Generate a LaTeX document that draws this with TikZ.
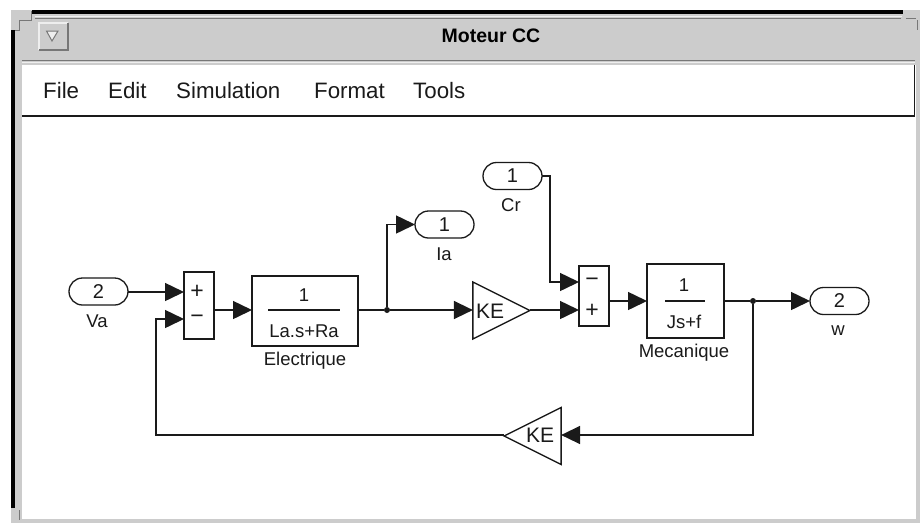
\documentclass[tikz,border=0pt]{standalone}
\usepackage{fontspec}
\setmainfont{Liberation Sans}
\usetikzlibrary{arrows.meta,shapes.geometric,shapes.misc}
\definecolor{wingray}{HTML}{CCCCCC}
\definecolor{winlight}{HTML}{EEEEEE}
\definecolor{windark}{HTML}{777777}
\definecolor{ink}{HTML}{1A1A1A}
\tikzset{
  x=1pt,y=-1pt,
  wire/.style={draw=ink,line width=1.5pt},
  flow/.style={wire,-{Triangle[length=19pt,width=18pt]}},
  blockbox/.style={draw=ink,line width=1.5pt,fill=white,inner sep=0pt,outer sep=0pt},
  pill/.style={draw=ink,line width=1.3pt,rounded rectangle,minimum width=59pt,minimum height=27pt,inner sep=0pt,outer sep=0pt,font=\fontsize{20}{20}\selectfont,text=ink},
  gain/.style={draw=ink,line width=1.3pt,isosceles triangle,isosceles triangle stretches,inner sep=0pt,outer sep=0pt,minimum width=57pt,minimum height=57pt},
  lab/.style={inner sep=0pt,font=\fontsize{18.5}{18.5}\selectfont,text=ink},
  gaintext/.style={inner sep=0pt,font=\fontsize{21}{21}\selectfont,text=ink},
  sign/.style={inner sep=0pt,font=\fontsize{23}{23}\selectfont,text=ink},
  menu/.style={inner sep=0pt,anchor=base west,font=\fontsize{22.3}{22.3}\selectfont,text=ink},
  junction/.style={circle,fill=ink,inner sep=0pt,minimum size=6pt},
}
\begin{document}
\begin{tikzpicture}
\useasboundingbox (0,0) rectangle (920,523);
% window chrome
\fill[wingray] (11,10) rectangle (920,65);
\fill[wingray] (11,10) rectangle (22,523);
\fill[wingray] (915.5,10) rectangle (920,523);
\fill[wingray] (11,519) rectangle (920,523);
\fill[white] (0,0) rectangle (920,10);
\fill[white] (0,0) rectangle (11,523);
\fill[white] (22,65) rectangle (915,116);
\fill[white] (22,116) rectangle (915.5,519);
\fill[black] (32,10) rectangle (903,13.5);
\fill[black] (11,30) rectangle (15,508);
\draw[winlight,line width=1.2pt] (35,16.5) -- (902,16.5);
\draw[windark,line width=1.2pt] (35,18.8) -- (901,18.8);
\draw[windark,line width=1.2pt] (22,60.3) -- (915,60.3);
\draw[winlight,line width=1.5pt] (22,62.7) -- (915,62.7);
\draw[windark,line width=1pt] (15,30) -- (19,30) -- (19,20) -- (31,20) -- (31,11);
\draw[windark,line width=1pt] (906,18) -- (916,18) (917,20) -- (917,30);
\draw[windark,line width=1pt] (19,510) -- (19,520);
\draw[ink,line width=1.4pt] (22,116) -- (914.5,116) -- (914.5,65);
% window menu button
\fill[wingray] (39,23) rectangle (68,50);
\draw[winlight,line width=1.2pt] (39,50) -- (39,23) -- (68,23);
\draw[windark,line width=1.2pt] (39,50) -- (68,50) -- (68,23);
\draw[windark,line width=1pt,fill=winlight] (46.5,31) -- (58,31) -- (52,41) -- cycle;
% titles and menu
\node[inner sep=0pt,font=\bfseries\fontsize{19.5}{19.5}\selectfont] (title) at (491,36) {Moteur CC};
\node[menu] (mfile) at (43,98) {File};
\node[menu] (medit) at (108,98) {Edit};
\node[menu] (msim) at (176,98) {Simulation};
\node[menu] (mformat) at (314,98) {Format};
\node[menu] (mtools) at (413,98) {Tools};
% ports
\node[pill] (va) at (98.5,291.5) {2};
\node[lab] (valab) at (97,321) {Va};
\node[pill] (ia) at (444.5,224.5) {1};
\node[lab] (ialab) at (444,254) {Ia};
\node[pill] (cr) at (512.5,176) {1};
\node[lab] (crlab) at (511,205) {Cr};
\node[pill] (w) at (839.5,301) {2};
\node[lab] (wlab) at (838,331) {w};
% sums
\node[blockbox,minimum width=30pt,minimum height=67pt] (sumA) at (199,305.5) {};
\node[sign] (sumAp) at (197,292) {+};
\node[sign] (sumAm) at (197,319.5) {−};
\node[blockbox,minimum width=30pt,minimum height=60pt] (sumB) at (594,296) {};
\node[sign] (sumBm) at (592,282) {−};
\node[sign] (sumBp) at (592,311) {+};
% transfer functions
\node[blockbox,minimum width=106pt,minimum height=70pt] (elec) at (305,311) {};
\node[lab] (elecn) at (304,295) {1};
\node[lab] (elecd) at (304,331) {La.s+Ra};
\node[lab] (eleclab) at (305,360.5) {Electrique};
\draw[wire] (268,310) -- (340,310);
\node[blockbox,minimum width=77pt,minimum height=74pt] (meca) at (685.5,301) {};
\node[lab] (mecan) at (684,285) {1};
\node[lab] (mecad) at (684,322) {Js+f};
\node[lab] (mecalab) at (684,353) {Mecanique};
\draw[wire] (665,301) -- (705,301);
% gains
\node[gain] (keA) at (490.5,310.5) {};
\node[gaintext] (keAt) at (490,311) {KE};
\node[gain,shape border rotate=180] (keB) at (543.5,436) {};
\node[gaintext] (keBt) at (540,435) {KE};
% connector helper points
\node[junction] (jA) at (387,310) {};
\node[junction] (jB) at (753,301) {};
\coordinate (crbend) at (550,176);
\coordinate (fbcorner) at (156,435);
% connectors
\draw[flow] (va.east |- 0,292) -- (sumA.west |- 0,292);
\draw[flow] (sumA.east |- 0,310) -- (elec.west |- 0,310);
\draw[wire] (elec.east |- jA) -- (jA);
\draw[flow] (jA) -- (keA.lower side |- jA);
\draw[flow] (jA) |- (ia.west);
\draw[flow] (keA.apex |- 0,310) -- (sumB.west |- 0,310);
\draw[flow] (cr.east) -- (crbend) |- (sumB.west |- 0,282);
\draw[flow] (sumB.east |- meca.west) -- (meca.west);
\draw[wire] (meca.east) -- (jB);
\draw[flow] (jB) -- (w.west);
\draw[flow] (jB) |- (keB.lower side |- 0,435);
\draw[flow] (keB.apex |- 0,435) -- (fbcorner) |- (sumA.west |- 0,319);
\end{tikzpicture}
\end{document}
